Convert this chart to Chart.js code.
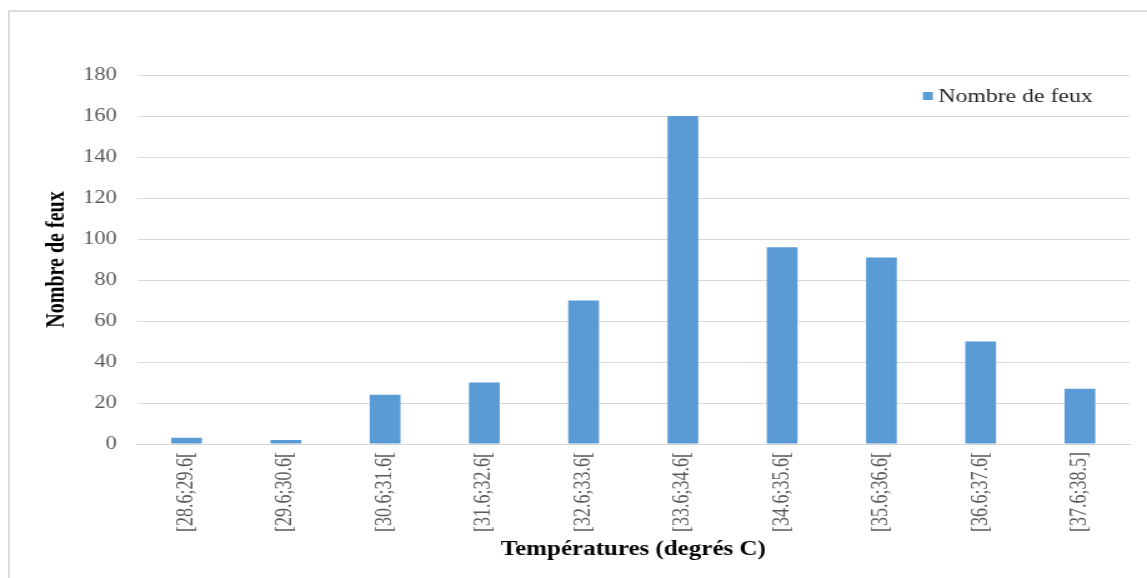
<!DOCTYPE html>
<html lang="fr">
<head>
<meta charset="utf-8">
<title>Nombre de feux par classe de température</title>
<script src="https://cdn.jsdelivr.net/npm/chart.js@4/dist/chart.umd.min.js"></script>
<style>
  html, body { margin: 0; padding: 0; background: #ffffff; overflow: hidden; }
  body { width: 1147px; height: 578px; position: relative; }
  #frame {
    position: absolute; left: 8px; top: 10px; width: 1160px; height: 600px;
    border: 2px solid #dcdcdc; box-sizing: border-box;
  }
  #wrap {
    position: absolute; left: 0; top: 0; width: 918px; height: 578px;
    transform: scaleX(1.2495); transform-origin: 0 0;
  }
</style>
</head>
<body>
<div id="frame"></div>
<div id="wrap"><canvas id="chart" width="918" height="578"></canvas></div>
<script>
// Classes de température (°C)
const categories = [
  '[28.6;29.6[', '[29.6;30.6[', '[30.6;31.6[', '[31.6;32.6[', '[32.6;33.6[',
  '[33.6;34.6[', '[34.6;35.6[', '[35.6;36.6[', '[36.6;37.6[', '[37.6;38.5]'
];
// Nombre de feux par classe
const fireCounts = [3, 2, 24, 30, 70, 160, 96, 91, 50, 27];
// Graduations de l'axe vertical
const yTickValues = [0, 20, 40, 60, 80, 100, 120, 140, 160, 180];

const seriesLabel = 'Nombre de feux';
const barColor = '#5b9bd5';
const serif = "'Liberation Serif', 'Times New Roman', serif";

// Légende dessinée dans le coin supérieur droit de la zone de tracé
const cornerLegend = {
  id: 'cornerLegend',
  afterDraw(chart) {
    const { ctx, chartArea } = chart;
    const ds = chart.data.datasets[0];
    ctx.save();
    ctx.font = "19px " + serif;
    const w = ctx.measureText(ds.label).width;
    const textX = chartArea.right - 29.5 - w;
    const cy = chartArea.top + 21;
    ctx.fillStyle = ds.backgroundColor;
    ctx.fillRect(textX - 12.5, cy - 4, 8, 8);
    ctx.fillStyle = '#262626';
    ctx.textBaseline = 'middle';
    ctx.textAlign = 'left';
    ctx.fillText(ds.label, textX, cy + 1);
    ctx.restore();
  }
};

new Chart(document.getElementById('chart'), {
  type: 'bar',
  data: {
    labels: categories,
    datasets: [{
      label: seriesLabel,
      data: fireCounts,
      backgroundColor: barColor,
      borderWidth: 0,
      barPercentage: 0.31,
      categoryPercentage: 1.0
    }]
  },
  options: {
    responsive: false,
    animation: false,
    devicePixelRatio: 1,
    layout: { padding: { left: 34, right: 14, top: 75, bottom: 0 } },
    plugins: {
      legend: { display: false },
      tooltip: { enabled: false }
    },
    scales: {
      x: {
        grid: { display: false, drawTicks: false },
        border: { display: true, color: '#d9d9d9', width: 1 },
        ticks: {
          autoSkip: false,
          minRotation: 90,
          maxRotation: 90,
          padding: 8,
          color: '#595959',
          font: { family: serif, size: 18 }
        },
        title: {
          display: true,
          text: 'Températures (degrés C)',
          color: '#000000',
          font: { family: serif, size: 20, weight: 'bold' },
          padding: { top: 0, bottom: 16 }
        },
        afterFit(scale) { scale.height = 134; }
      },
      y: {
        min: 0,
        max: 180,
        afterBuildTicks(scale) {
          scale.ticks = yTickValues.map(v => ({ value: v }));
        },
        grid: { color: '#d9d9d9', lineWidth: 1, drawTicks: false },
        border: { display: false },
        ticks: {
          padding: 16,
          color: '#595959',
          font: { family: serif, size: 18 }
        },
        title: {
          display: true,
          text: 'Nombre de feux',
          color: '#000000',
          font: { family: serif, size: 20, weight: 'bold' },
          padding: { top: 0, bottom: 0 }
        },
        afterFit(scale) { scale.width = 75.6; }
      }
    }
  },
  plugins: [cornerLegend]
});
</script>
</body>
</html>
